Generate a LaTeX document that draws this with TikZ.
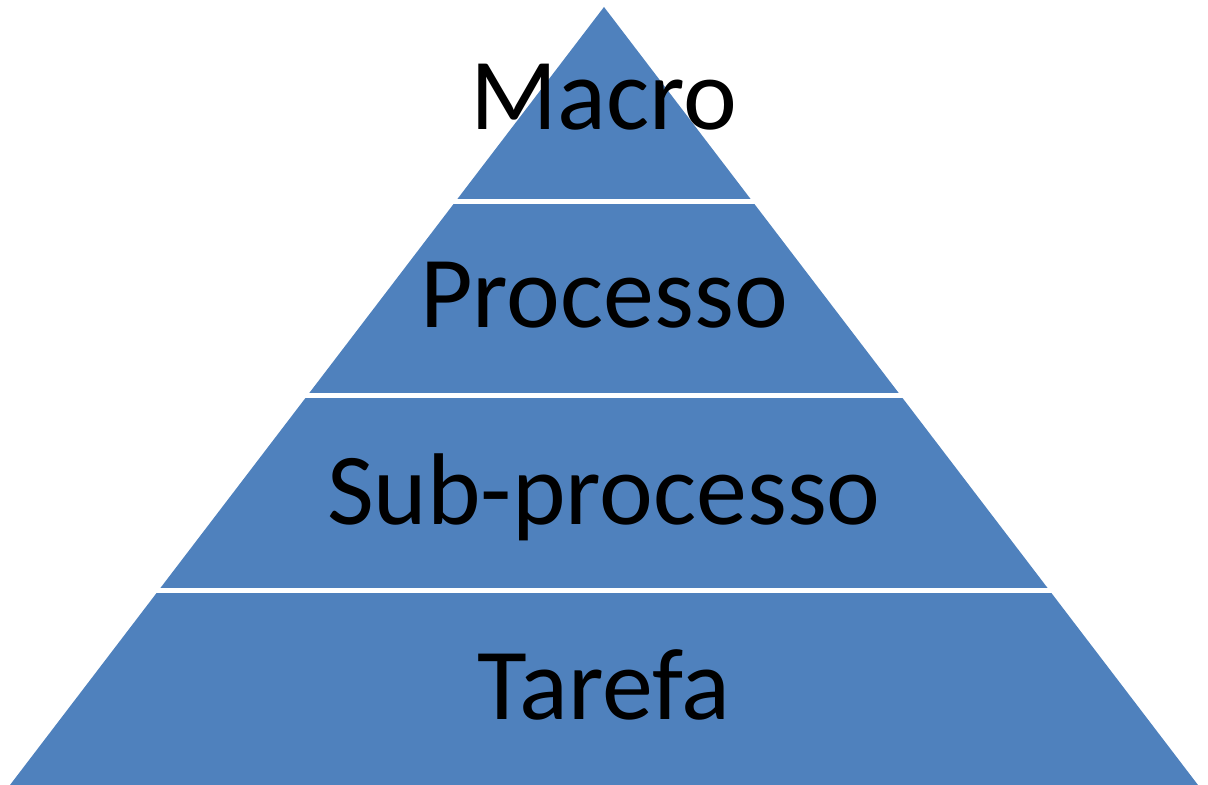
\documentclass[tikz,border=0pt]{standalone}
\usepackage{fontspec}
\setmainfont{Carlito}
\usetikzlibrary{calc}
\definecolor{pyrblue}{HTML}{4F81BD}
\tikzset{
  layer/.style={fill=pyrblue},
  gapline/.style={draw=white,line width=0.05cm,shorten <=-3pt,shorten >=-3pt},
  levellabel/.style={anchor=base,inner sep=0pt,font=\fontsize{29}{35}\selectfont}
}
\begin{document}
\begin{tikzpicture}
              \useasboundingbox (0,0) rectangle (12.08,7.85);
              \coordinate (T) at (6.04,7.78);
              \coordinate (L) at (0.10,0);
              \coordinate (R) at (11.98,0);
              % four layers, bottom to top
              \foreach \lo/\hi in {0/0.25,0.25/0.5,0.5/0.75,0.75/1}{
                \fill[layer] ($(L)!\lo!(T)$) -- ($(R)!\lo!(T)$)
                  -- ($(R)!\hi!(T)$) -- ($(L)!\hi!(T)$) -- cycle;
              }
              % white gaps between the layers
              \foreach \f in {0.25,0.5,0.75}{
                \draw[gapline] ($(L)!\f!(T)$) -- ($(R)!\f!(T)$);
              }
              \node[levellabel] (macro) at (6.04,6.55) {Macro};
              \node[levellabel] (processo) at (6.04,4.57) {Processo};
              \node[levellabel] (subprocesso) at (6.04,2.60) {Sub-processo};
              \node[levellabel] (tarefa) at (6.04,0.65) {Tarefa};
\end{tikzpicture}
\end{document}
